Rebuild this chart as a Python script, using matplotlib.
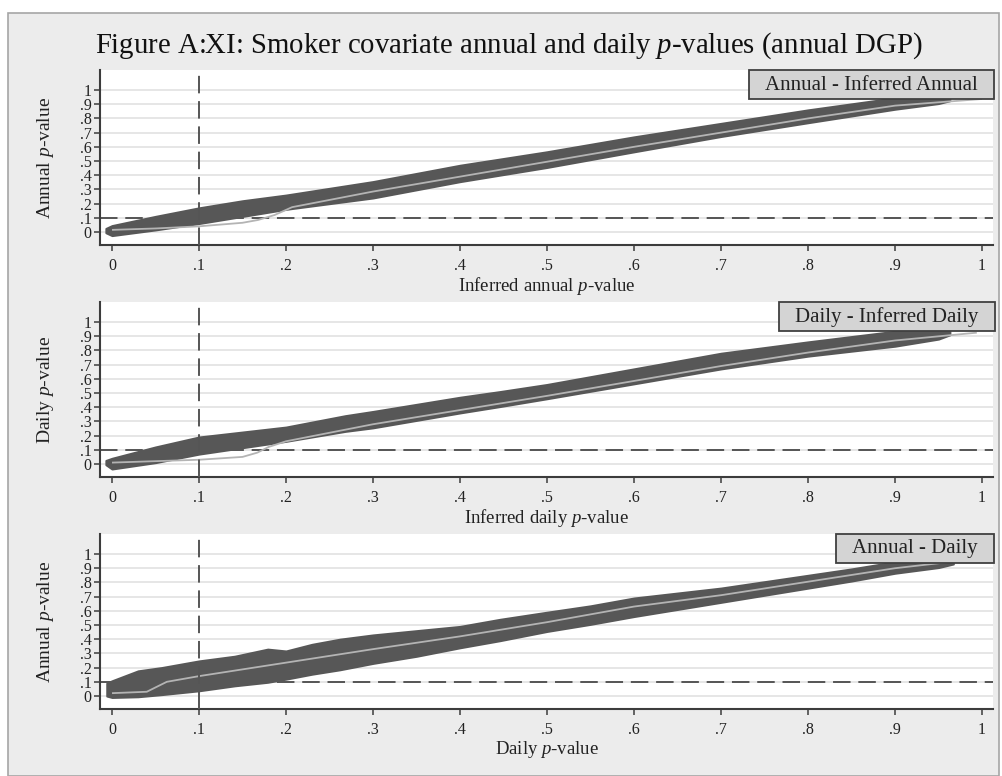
import matplotlib
matplotlib.use("Agg")
import matplotlib.pyplot as plt
from matplotlib.patches import Rectangle

plt.rcParams["font.family"] = ["Liberation Serif", "DejaVu Serif"]
plt.rcParams["mathtext.fontset"] = "custom"
plt.rcParams["mathtext.rm"] = "Liberation Serif"
plt.rcParams["mathtext.it"] = "Liberation Serif:italic"

title = "Figure A:XI: Smoker covariate annual and daily $p$-values (annual DGP)"

tick_vals = [0, .1, .2, .3, .4, .5, .6, .7, .8, .9, 1]
tick_text = ["0", ".1", ".2", ".3", ".4", ".5", ".6", ".7", ".8", ".9", "1"]
cutoff = 0.1

panel_names = ["Annual - Inferred Annual", "Daily - Inferred Daily", "Annual - Daily"]
x_titles = ["Inferred annual $p$-value", "Inferred daily $p$-value", "Daily $p$-value"]
y_titles = ["Annual $p$-value", "Daily $p$-value", "Annual $p$-value"]

# point cloud envelopes (upper / lower edge of the scatter)
ann_inf_x = [-0.007, 0, .05, .1, .15, .2, .3, .4, .5, .6, .7, .8, .9, .95, .963]
ann_inf_hi = [0.025, .045, .11, .17, .22, .26, .355, .47, .565, .67, .765, .86, .945, .975, .955]
ann_inf_lo = [-0.005, -.025, .015, .06, .11, .16, .24, .355, .455, .565, .673, .77, .865, .905, .925]

daily_inf_x = [-0.007, 0, .05, .1, .15, .2, .268, .3, .4, .446, .5, .6, .7, .8, .9, .95, .963]
daily_inf_hi = [0.025, .04, .12, .19, .225, .26, .34, .37, .47, .51, .56, .67, .78, .86, .935, .965, .945]
daily_inf_lo = [-0.005, -.035, .01, .07, .115, .16, .23, .255, .36, .405, .46, .565, .67, .76, .83, .88, .91]

ann_daily_x = [-0.006, 0, .03, .057, .1, .141, .179, .2, .23, .262, .3, .35, .4, .446,
               .5, .55, .6, .65, .7, .75, .8, .85, .9, .95, .967]
ann_daily_hi = [0.09, .107, .177, .20, .247, .28, .33, .317, .364, .40, .43, .46, .49, .54,
                .59, .635, .69, .725, .76, .805, .85, .895, .945, .97, .96]
ann_daily_lo = [0.0, -.01, -.005, .01, .037, .072, .097, .119, .154, .185, .23, .28, .34, .39,
                .455, .505, .56, .61, .66, .71, .76, .81, .865, .905, .93]

# smoothed fit lines
ann_inf_fit_x = [0, .05, .1, .15, .168, .187, .207, .3, .4, .5, .6, .7, .8, .9, 1.0]
ann_inf_fit_y = [.015, .025, .04, .065, .085, .12, .175, .285, .39, .495, .6, .70, .80, .89, .937]

daily_inf_fit_x = [0, .05, .1, .15, .167, .18, .2, .3, .4, .5, .6, .7, .8, .9, .994]
daily_inf_fit_y = [.01, .02, .03, .05, .08, .12, .16, .28, .38, .48, .585, .69, .785, .87, .925]

ann_daily_fit_x = [0, .04, .063, .1, .2, .3, .4, .5, .6, .7, .8, .9, 1.0]
ann_daily_fit_y = [.02, .03, .10, .14, .235, .33, .42, .52, .63, .71, .805, .90, .97]

bands = [(ann_inf_x, ann_inf_lo, ann_inf_hi),
         (daily_inf_x, daily_inf_lo, daily_inf_hi),
         (ann_daily_x, ann_daily_lo, ann_daily_hi)]
fits = [(ann_inf_fit_x, ann_inf_fit_y),
        (daily_inf_fit_x, daily_inf_fit_y),
        (ann_daily_fit_x, ann_daily_fit_y)]

W, H = 1002, 776
AX_W, AX_H = 893, 175
fig = plt.figure(figsize=(W / 100, H / 100), dpi=100, facecolor="white")

# grey graph region with a thin frame
fig.patches.append(Rectangle((8 / W, 0), (999 - 8) / W, 1 - 13 / H, transform=fig.transFigure,
                             facecolor="#ececec", edgecolor="#a6a6a6", lw=1.2, zorder=-5))

fig.text(509 / W, 1 - 46 / H, title, ha="center", va="center", fontsize=20.7, color="#111111")

band_col = "#575757"
axis_col = "#3c3c3c"
panel_bottoms = [245, 477, 709]
renderer = fig.canvas.get_renderer()

for i in range(3):
    b = panel_bottoms[i]
    ax = fig.add_axes([100 / W, 1 - b / H, AX_W / W, AX_H / H])
    ax.set_facecolor("white")
    ax.set_xlim(-0.0138, 1.0126)
    ax.set_ylim(-0.0915, 1.141)

    for v in tick_vals:
        ax.axhline(v, color="#e4e4e4", lw=1.3, zorder=1)

    bx, blo, bhi = bands[i]
    ax.fill_between(bx, blo, bhi, color=band_col, ec=band_col, lw=1.5, zorder=3)
    fx, fy = fits[i]
    ax.plot(fx, fy, color="#b4b4b4", lw=1.3, zorder=4, solid_capstyle="butt")

    ax.axhline(cutoff, color="#555555", lw=1.4, dashes=(9, 4), zorder=2)
    ax.axvline(cutoff, color="#555555", lw=1.4, dashes=(9, 4), zorder=5)

    ax.set_xticks(tick_vals)
    ax.set_xticklabels(tick_text)
    ax.set_yticks(tick_vals)
    ax.set_yticklabels(tick_text)
    ax.tick_params(axis="both", direction="out", length=4, width=1.1, color=axis_col,
                   labelsize=11.5, labelcolor="#222222", pad=5)
    ax.tick_params(axis="y", pad=2)

    for s in ["top", "right"]:
        ax.spines[s].set_visible(False)
    for s in ["left", "bottom"]:
        ax.spines[s].set_color(axis_col)
        ax.spines[s].set_linewidth(1.5)

    ax.set_xlabel(x_titles[i], fontsize=13.5, color="#222222", labelpad=1)
    ax.set_ylabel(y_titles[i], fontsize=14, color="#222222", labelpad=17)

    # panel caption in a grey box pinned to the top-right corner
    t = ax.text(1 - 15 / AX_W, 1 - 15 / AX_H, panel_names[i], transform=ax.transAxes,
                ha="right", va="center", fontsize=15, color="#222222", zorder=11)
    bb = t.get_window_extent(renderer).transformed(ax.transAxes.inverted())
    x0 = bb.x0 - 16 / AX_W
    ax.add_patch(Rectangle((x0, 1 - 29 / AX_H), 1 + 1.5 / AX_W - x0, 29 / AX_H,
                           transform=ax.transAxes, facecolor="#d4d4d4", edgecolor="#404040",
                           lw=1.3, zorder=10, clip_on=False))

fig.savefig("out.png", dpi=100, facecolor=fig.get_facecolor())
